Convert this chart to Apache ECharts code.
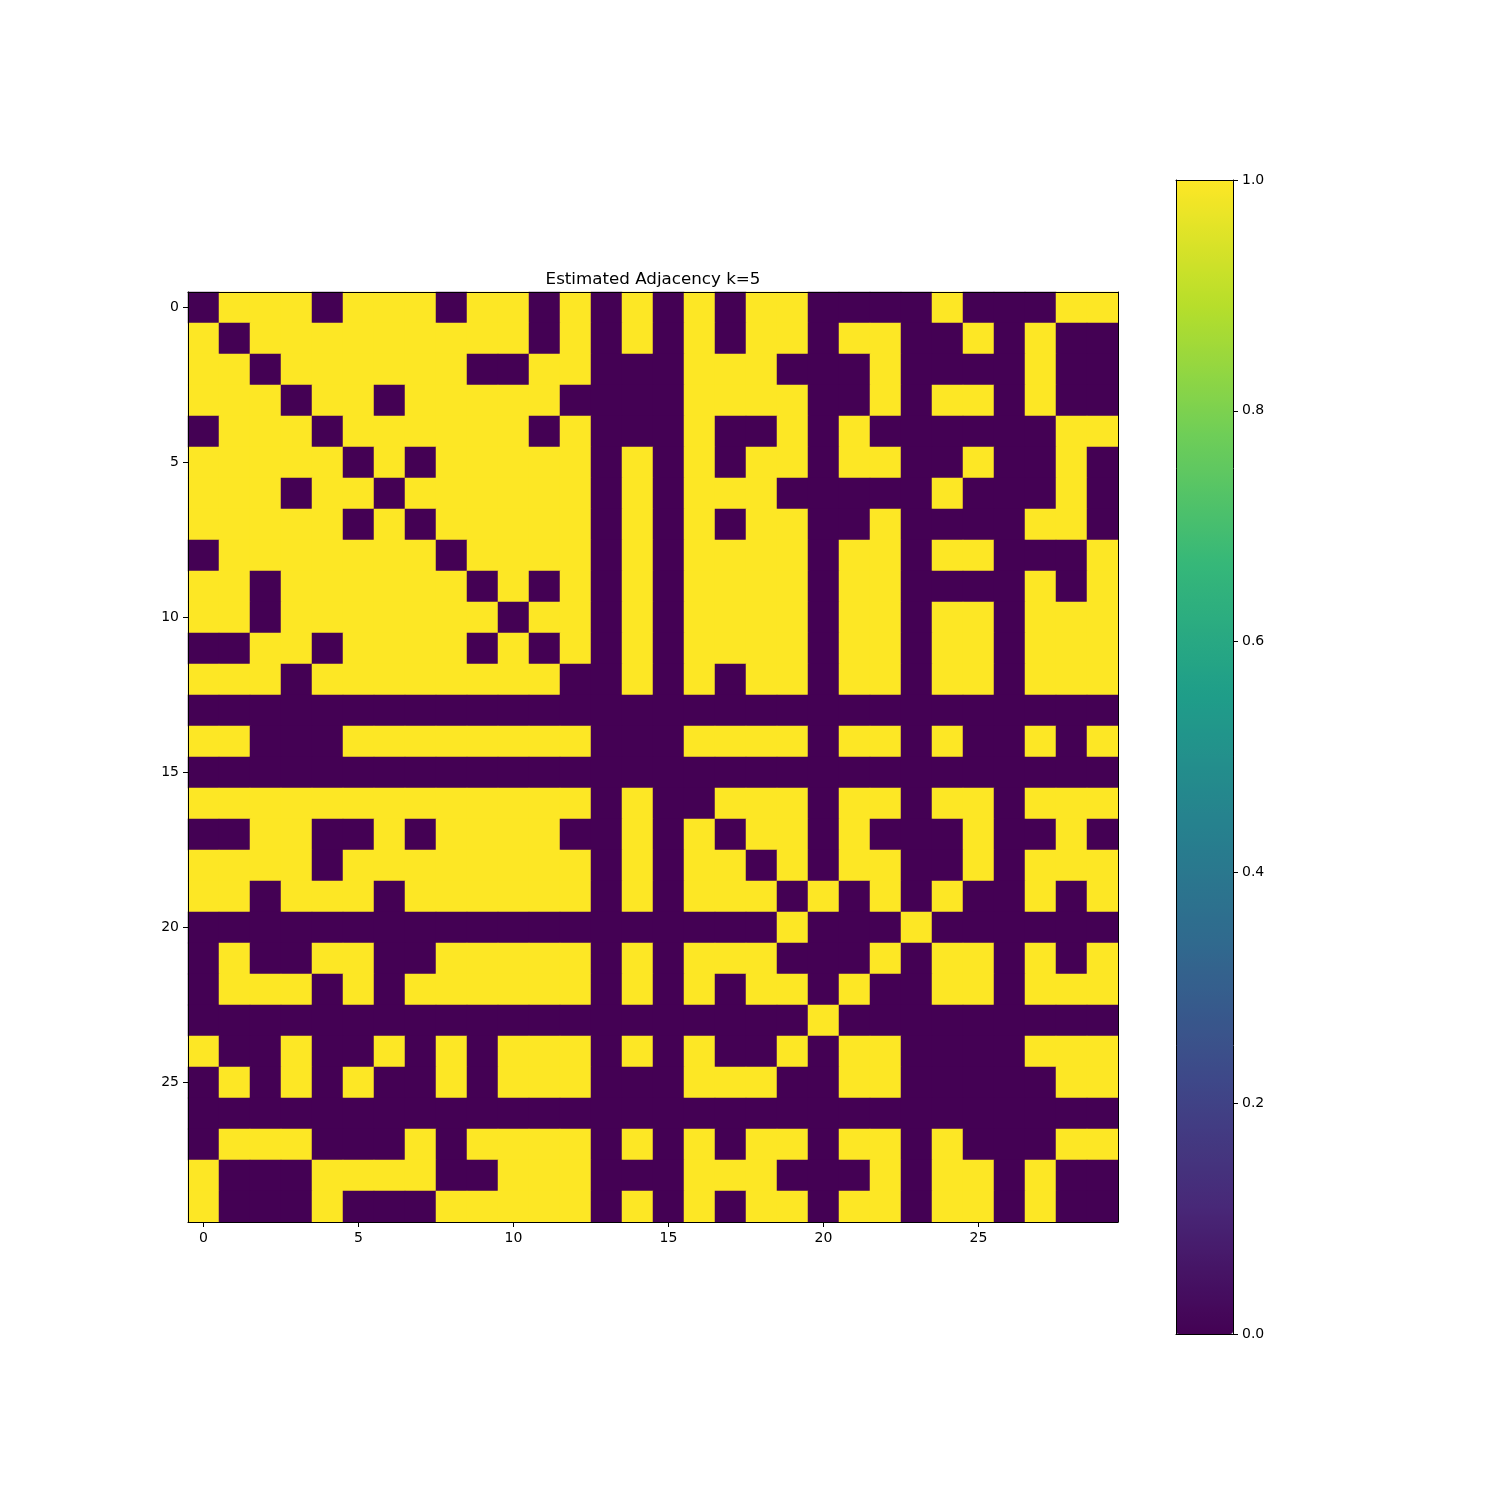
<!DOCTYPE html>
<html>
<head>
<meta charset="utf-8">
<script src="https://cdn.jsdelivr.net/npm/echarts@6/dist/echarts.min.js"></script>
<style>html,body{margin:0;padding:0;background:#fff;}#c{width:1500px;height:1500px;}</style>
</head>
<body>
<div id="c"></div>
<script>
const title = 'Estimated Adjacency k=5';
const nodes = Array.from({length: 30}, (_, i) => String(i));
const colorbarTicks = [0, 0.2, 0.4, 0.6, 0.8, 1.0];
const viridis = ['#440154', '#482878', '#3e4989', '#31688e', '#26828e', '#1f9e89', '#35b779', '#6ece58', '#b5de2b', '#fde725'];

const row0  = [0,1,1,1,0,1,1,1,0,1,1,0,1,0,1,0,1,0,1,1,0,0,0,0,1,0,0,0,1,1];
const row1  = [1,0,1,1,1,1,1,1,1,1,1,0,1,0,1,0,1,0,1,1,0,1,1,0,0,1,0,1,0,0];
const row2  = [1,1,0,1,1,1,1,1,1,0,0,1,1,0,0,0,1,1,1,0,0,0,1,0,0,0,0,1,0,0];
const row3  = [1,1,1,0,1,1,0,1,1,1,1,1,0,0,0,0,1,1,1,1,0,0,1,0,1,1,0,1,0,0];
const row4  = [0,1,1,1,0,1,1,1,1,1,1,0,1,0,0,0,1,0,0,1,0,1,0,0,0,0,0,0,1,1];
const row5  = [1,1,1,1,1,0,1,0,1,1,1,1,1,0,1,0,1,0,1,1,0,1,1,0,0,1,0,0,1,0];
const row6  = [1,1,1,0,1,1,0,1,1,1,1,1,1,0,1,0,1,1,1,0,0,0,0,0,1,0,0,0,1,0];
const row7  = [1,1,1,1,1,0,1,0,1,1,1,1,1,0,1,0,1,0,1,1,0,0,1,0,0,0,0,1,1,0];
const row8  = [0,1,1,1,1,1,1,1,0,1,1,1,1,0,1,0,1,1,1,1,0,1,1,0,1,1,0,0,0,1];
const row9  = [1,1,0,1,1,1,1,1,1,0,1,0,1,0,1,0,1,1,1,1,0,1,1,0,0,0,0,1,0,1];
const row10 = [1,1,0,1,1,1,1,1,1,1,0,1,1,0,1,0,1,1,1,1,0,1,1,0,1,1,0,1,1,1];
const row11 = [0,0,1,1,0,1,1,1,1,0,1,0,1,0,1,0,1,1,1,1,0,1,1,0,1,1,0,1,1,1];
const row12 = [1,1,1,0,1,1,1,1,1,1,1,1,0,0,1,0,1,0,1,1,0,1,1,0,1,1,0,1,1,1];
const row13 = [0,0,0,0,0,0,0,0,0,0,0,0,0,0,0,0,0,0,0,0,0,0,0,0,0,0,0,0,0,0];
const row14 = [1,1,0,0,0,1,1,1,1,1,1,1,1,0,0,0,1,1,1,1,0,1,1,0,1,0,0,1,0,1];
const row15 = [0,0,0,0,0,0,0,0,0,0,0,0,0,0,0,0,0,0,0,0,0,0,0,0,0,0,0,0,0,0];
const row16 = [1,1,1,1,1,1,1,1,1,1,1,1,1,0,1,0,0,1,1,1,0,1,1,0,1,1,0,1,1,1];
const row17 = [0,0,1,1,0,0,1,0,1,1,1,1,0,0,1,0,1,0,1,1,0,1,0,0,0,1,0,0,1,0];
const row18 = [1,1,1,1,0,1,1,1,1,1,1,1,1,0,1,0,1,1,0,1,0,1,1,0,0,1,0,1,1,1];
const row19 = [1,1,0,1,1,1,0,1,1,1,1,1,1,0,1,0,1,1,1,0,1,0,1,0,1,0,0,1,0,1];
const row20 = [0,0,0,0,0,0,0,0,0,0,0,0,0,0,0,0,0,0,0,1,0,0,0,1,0,0,0,0,0,0];
const row21 = [0,1,0,0,1,1,0,0,1,1,1,1,1,0,1,0,1,1,1,0,0,0,1,0,1,1,0,1,0,1];
const row22 = [0,1,1,1,0,1,0,1,1,1,1,1,1,0,1,0,1,0,1,1,0,1,0,0,1,1,0,1,1,1];
const row23 = [0,0,0,0,0,0,0,0,0,0,0,0,0,0,0,0,0,0,0,0,1,0,0,0,0,0,0,0,0,0];
const row24 = [1,0,0,1,0,0,1,0,1,0,1,1,1,0,1,0,1,0,0,1,0,1,1,0,0,0,0,1,1,1];
const row25 = [0,1,0,1,0,1,0,0,1,0,1,1,1,0,0,0,1,1,1,0,0,1,1,0,0,0,0,0,1,1];
const row26 = [0,0,0,0,0,0,0,0,0,0,0,0,0,0,0,0,0,0,0,0,0,0,0,0,0,0,0,0,0,0];
const row27 = [0,1,1,1,0,0,0,1,0,1,1,1,1,0,1,0,1,0,1,1,0,1,1,0,1,0,0,0,1,1];
const row28 = [1,0,0,0,1,1,1,1,0,0,1,1,1,0,0,0,1,1,1,0,0,0,1,0,1,1,0,1,0,0];
const row29 = [1,0,0,0,1,0,0,0,1,1,1,1,1,0,1,0,1,0,1,1,0,1,1,0,1,1,0,1,0,0];

const matrix = [row0,row1,row2,row3,row4,row5,row6,row7,row8,row9,row10,row11,row12,row13,row14,
  row15,row16,row17,row18,row19,row20,row21,row22,row23,row24,row25,row26,row27,row28,row29];

const cells = [];
matrix.forEach((r, yi) => r.forEach((v, xi) => cells.push([xi, yi, v])));

const FONT = 'DejaVu Sans';
const lbl = {color: '#000', fontSize: 14, fontFamily: FONT};
const line = {show: true, onZero: false, lineStyle: {color: '#000', width: 1}};
const tick = {show: true, length: 5, lineStyle: {color: '#000', width: 1}};

const chart = echarts.init(document.getElementById('c'), null, {renderer: 'canvas'});
chart.setOption({
  animation: false,
  backgroundColor: '#fff',
  title: {
    text: title, left: 653, top: 271, textAlign: 'center', padding: 0,
    textStyle: {fontSize: 16.7, fontWeight: 'normal', color: '#000', fontFamily: FONT}
  },
  grid: [
    {left: 188, top: 292, width: 930, height: 930, containLabel: false},
    {left: 1176, top: 180, width: 57, height: 1154, containLabel: false}
  ],
  xAxis: [
    {gridIndex: 0, type: 'category', data: nodes, position: 'bottom', z: 10,
     axisLine: line, axisTick: Object.assign({alignWithLabel: true, interval: 4}, tick),
     axisLabel: Object.assign({interval: 4, margin: 9}, lbl), splitLine: {show: false}},
    {gridIndex: 0, type: 'category', data: nodes, position: 'top', z: 10,
     axisLine: line, axisTick: {show: false}, axisLabel: {show: false}, splitLine: {show: false}},
    {gridIndex: 1, type: 'value', min: 0, max: 1, position: 'bottom', z: 10,
     axisLine: line, axisTick: {show: false}, axisLabel: {show: false}, splitLine: {show: false}},
    {gridIndex: 1, type: 'value', min: 0, max: 1, position: 'top', z: 10,
     axisLine: line, axisTick: {show: false}, axisLabel: {show: false}, splitLine: {show: false}}
  ],
  yAxis: [
    {gridIndex: 0, type: 'category', data: nodes, inverse: true, position: 'left', z: 10,
     axisLine: line, axisTick: Object.assign({alignWithLabel: true, interval: 4}, tick),
     axisLabel: Object.assign({interval: 4, margin: 9, padding: [4, 0, 0, 0]}, lbl), splitLine: {show: false}},
    {gridIndex: 0, type: 'category', data: nodes, inverse: true, position: 'right', z: 10,
     axisLine: line, axisTick: {show: false}, axisLabel: {show: false}, splitLine: {show: false}},
    {gridIndex: 1, type: 'value', min: colorbarTicks[0], max: colorbarTicks[colorbarTicks.length - 1], interval: 0.2,
     position: 'right', z: 10, axisLine: line, axisTick: tick,
     axisLabel: Object.assign({margin: 9, padding: [4, 0, 0, 0], formatter: v => v.toFixed(1)}, lbl), splitLine: {show: false}},
    {gridIndex: 1, type: 'value', min: 0, max: 1, position: 'left', z: 10,
     axisLine: line, axisTick: {show: false}, axisLabel: {show: false}, splitLine: {show: false}}
  ],
  visualMap: {
    type: 'continuous', min: 0, max: 1, seriesIndex: 0, calculable: false,
    left: 1176, top: 180, itemWidth: 57, itemHeight: 1154, padding: 0,
    text: null, showLabel: false, hoverLink: false,
    inRange: {color: viridis}
  },
  series: [{
    type: 'heatmap', xAxisIndex: 0, yAxisIndex: 0, data: cells,
    itemStyle: {borderWidth: 0}, emphasis: {disabled: true}, progressive: 0
  }]
});
</script>
</body>
</html>
